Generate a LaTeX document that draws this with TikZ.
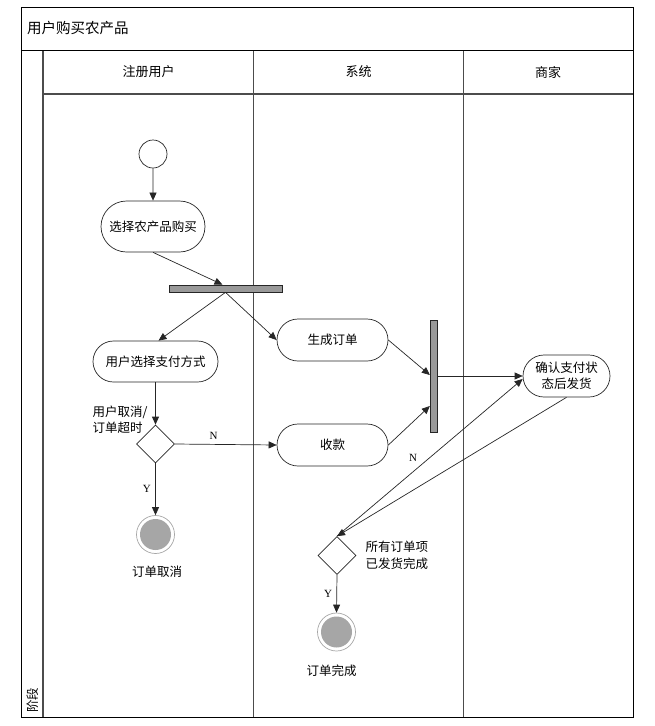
\documentclass[tikz,border=0pt]{standalone}
\usepackage{fontspec}
\setmainfont{Liberation Serif}
\newfontfamily\cjk{Noto Sans CJK SC}
\usetikzlibrary{arrows.meta,shapes.misc,shapes.geometric,calc}

\tikzset{
  frameline/.style={line width=1pt,draw=black},
  laneline/.style={line width=1.3pt,draw=black!70},
  action/.style={rounded rectangle,draw=black!85,line width=0.7pt,fill=white,
    inner sep=0pt,font=\cjk\fontsize{12.5}{16}\selectfont,align=center},
  startnode/.style={circle,draw=black!85,line width=0.7pt,minimum size=28pt,inner sep=0pt},
  endnode/.style={circle,draw=black!35,line width=0.7pt,minimum size=38pt,inner sep=0pt,
    path picture={\fill[black!35] (path picture bounding box.center) circle (15.5pt);}},
  syncbar/.style={rectangle,draw=black!85,fill=black!40,line width=0.7pt,inner sep=0pt},
  decision/.style={diamond,draw=black!85,line width=0.7pt,minimum width=38pt,
    minimum height=38pt,inner sep=0pt,aspect=1},
  flow/.style={draw=black!85,line width=0.7pt,-{Triangle[length=8pt,width=7pt]}},
  guard/.style={font=\fontsize{11}{12}\selectfont},
  cjktext/.style={font=\cjk\fontsize{12.5}{16.5}\selectfont,align=left,inner sep=0pt},
}

\begin{document}
\begin{tikzpicture}[x=1pt,y=-1pt]
\useasboundingbox (0,0) rectangle (654,726);

% swimlane frame
\draw[laneline] (43,50.5) -- (43,717);
\draw[laneline] (253.5,50.5) -- (253.5,717);
\draw[laneline] (463.5,50.5) -- (463.5,717);
\draw[laneline] (43,94) -- (633,94);
\draw[frameline] (21.5,50.5) -- (633,50.5);
\draw[frameline] (21.5,7) rectangle (633,717);

% titles
\node[anchor=west,inner sep=0pt,font=\cjk\fontsize{14.5}{16}\selectfont] (title) at (27,28.5) {用户购买农产品};
\node[font=\cjk\fontsize{13}{16}\selectfont] (laneA) at (148.5,72) {注册用户};
\node[font=\cjk\fontsize{13}{16}\selectfont] (laneB) at (358.5,72) {系统};
\node[font=\cjk\fontsize{13}{16}\selectfont] (laneC) at (548,72) {商家};
\node[rotate=90,font=\cjk\fontsize{12.5}{16}\selectfont,inner sep=0pt] (stage) at (32.5,700) {阶段};

% activity nodes
\node[startnode] (start) at (153,154) {};
\node[action,minimum width=104pt,minimum height=51pt] (choose) at (153,226.5) {选择农产品购买};
\node[syncbar,minimum width=113pt,minimum height=7pt] (fork) at (225.5,288.5) {};
\node[action,minimum width=125pt,minimum height=41pt] (pay) at (155.5,361.5) {用户选择支付方式};
\node[decision] (dec1) at (155.5,444) {};
\node[endnode] (end1) at (155.5,534.5) {};
\node[action,minimum width=111pt,minimum height=42pt] (gen) at (332.5,340) {生成订单};
\node[action,minimum width=111pt,minimum height=42pt] (recv) at (332.5,445) {收款};
\node[syncbar,minimum width=7pt,minimum height=112pt] (join) at (433.7,376) {};
\node[action,minimum width=87pt,minimum height=42pt] (confirm) at (566.5,376) {确认支付状\\态后发货};
\node[decision] (dec2) at (337,555.5) {};
\node[endnode] (end2) at (336.5,632) {};

% annotations
\node[cjktext,anchor=west] (cond1) at (92.5,419.5) {用户取消/\\订单超时};
\node[cjktext,anchor=west] (cond2) at (365.5,555.5) {所有订单项\\已发货完成};
\node[font=\cjk\fontsize{12.5}{16}\selectfont] (cancel) at (157,571.5) {订单取消};
\node[font=\cjk\fontsize{12.5}{16}\selectfont] (done) at (331.5,670.5) {订单完成};

% control flow
\draw[flow] (start) -- (choose);
\draw[flow] (choose.south) -- ($(fork.north)+(-3,0)$);
\draw[flow] (fork.south) -- ($(pay.north)+(3,0)$);
\draw[flow] (fork.south) -- (gen.west);
\draw[flow] (pay.south) -- (dec1.north);
\draw[flow] (dec1.east) -- node[guard,pos=0.38,above=1pt] {N} (recv.west);
\draw[flow] (dec1.south) -- node[guard,left=1pt] {Y} (end1.north);
\draw[flow] (gen.east) -- ($(join.west)+(0,-1)$);
\draw[flow] (recv.east) -- ($(join.west)+(0,30)$);
\draw[flow] (join.east) -- (confirm.west);
\draw[flow] (confirm.south) -- (dec2.north);
\draw[flow] (dec2.north) -- node[guard,pos=0.5,left=9pt] {N} ($(confirm.west)+(0,3)$);
\draw[flow] (dec2.south) -- node[guard,left=1pt] {Y} (end2.north);
\end{tikzpicture}
\end{document}
